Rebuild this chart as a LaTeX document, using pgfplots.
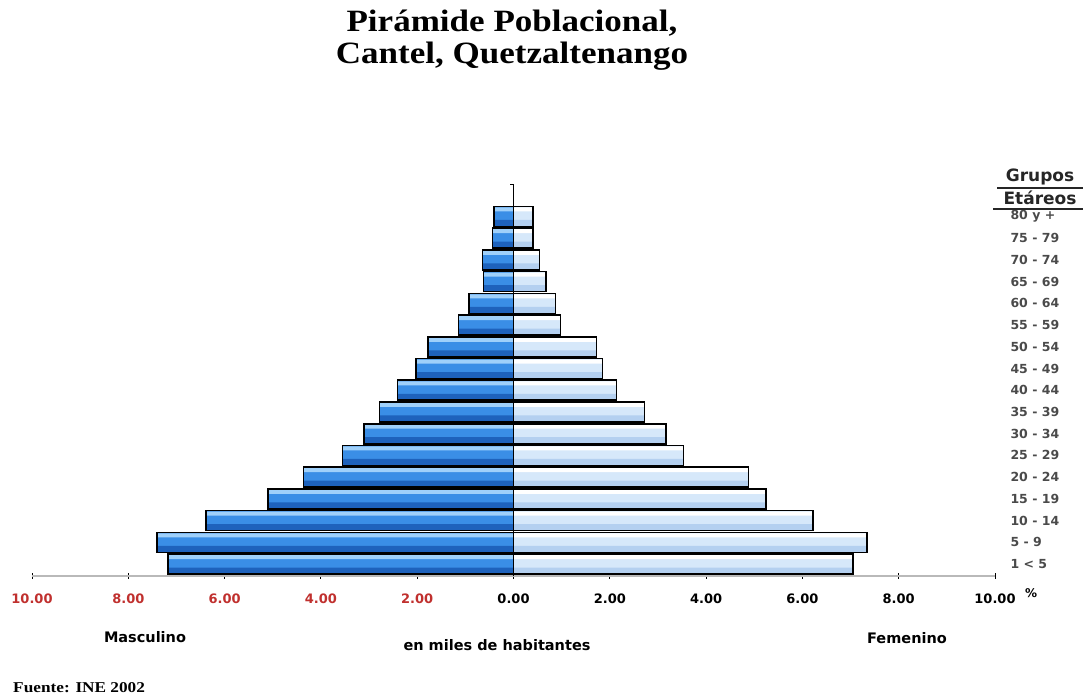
\documentclass[border=0pt]{standalone}
\usepackage{fontspec}
\setmainfont{Liberation Serif}
\newfontfamily\dv{DejaVu Sans}
\usepackage{pgfplots}
\usepackage{pgfplotstable}
\pgfplotsset{compat=1.18}

\definecolor{mhi}{HTML}{9FD0FA}
\definecolor{mmid}{HTML}{3A8EE6}
\definecolor{mlo}{HTML}{1E62BC}
\definecolor{fhi}{HTML}{FFFFFF}
\definecolor{fmid}{HTML}{D6E8FA}
\definecolor{flo}{HTML}{B4D0F0}
\definecolor{tred}{HTML}{C0302E}
\definecolor{lblgray}{HTML}{4A4A4A}

% edad: 0 = "1 < 5" ... 16 = "80 y +"
\pgfplotstableread{
edad masc fem
0  -7.18 7.05
1  -7.41 7.34
2  -6.39 6.22
3  -5.10 5.25
4  -4.36 4.88
5  -3.55 3.53
6  -3.11 3.17
7  -2.78 2.72
8  -2.41 2.14
9  -2.03 1.85
10 -1.78 1.72
11 -1.14 0.98
12 -0.93 0.87
13 -0.62 0.68
14 -0.64 0.54
15 -0.44 0.41
16 -0.41 0.41
}\piramide

\begin{document}
\begin{tikzpicture}
\useasboundingbox (0,0) rectangle (1087pt,698pt);

\node[font=\fontsize{31}{33}\selectfont\bfseries, xscale=1.13] at (512pt,675pt) {Pirámide Poblacional,};
\node[font=\fontsize{31}{33}\selectfont\bfseries, xscale=1.13] at (512pt,642pt) {Cantel, Quetzaltenango};

\begin{axis}[
    at={(32pt,122pt)}, anchor=south west,
    scale only axis,
    width=963pt, height=391pt,
    xmin=-10, xmax=10,
    ymin=-0.55, ymax=17.45,
    axis x line*=bottom,
    axis y line*=right,
    y axis line style={draw=none},
    x axis line style={draw=gray!55, line width=2.5pt},
    xtick={-10,-8,...,10},
    xticklabels={\textcolor{tred}{10.00},\textcolor{tred}{8.00},\textcolor{tred}{6.00},\textcolor{tred}{4.00},\textcolor{tred}{2.00},0.00,2.00,4.00,6.00,8.00,10.00},
    xtick style={black, line width=1pt},
    major tick length=6pt,
    tick align=center,
    xticklabel style={font=\dv\bfseries\fontsize{13}{14}\selectfont, yshift=-11pt},
    ytick={0,...,16},
    yticklabels={1 < 5,5 - 9,10 - 14,15 - 19,20 - 24,25 - 29,30 - 34,35 - 39,40 - 44,45 - 49,50 - 54,55 - 59,60 - 64,65 - 69,70 - 74,75 - 79,80 y +},
    ytick style={draw=none},
    yticklabel style={font=\dv\bfseries\fontsize{12.5}{13}\selectfont, text=lblgray, anchor=west, xshift=6pt},
    /pgf/number format/assume math mode=true,
    xbar, bar shift=0pt,
    clip=false,
]
% Masculino: relleno, brillo arriba, sombra abajo, contorno
\addplot[draw=none, fill=mmid, bar width=20pt] table[x=masc, y=edad] {\piramide};
\addplot[draw=none, fill=mhi, bar width=4pt, bar shift=7pt] table[x=masc, y=edad] {\piramide};
\addplot[draw=none, fill=mlo, bar width=6pt, bar shift=-6.5pt] table[x=masc, y=edad] {\piramide};
\addplot[draw=black, fill=none, line width=1.6pt, bar width=20pt] table[x=masc, y=edad] {\piramide};
% Femenino
\addplot[draw=none, fill=fmid, bar width=20pt] table[x=fem, y=edad] {\piramide};
\addplot[draw=none, fill=fhi, bar width=4pt, bar shift=7pt] table[x=fem, y=edad] {\piramide};
\addplot[draw=none, fill=flo, bar width=6pt, bar shift=-6.5pt] table[x=fem, y=edad] {\piramide};
\addplot[draw=black, fill=none, line width=1.6pt, bar width=20pt] table[x=fem, y=edad] {\piramide};

\draw[black, line width=1pt] (axis cs:0,-0.55) -- (axis cs:0,17.45) -- (axis cs:-0.07,17.45);
\end{axis}

\node[font=\dv\bfseries\fontsize{17}{18}\selectfont, text=black!85] at (1040pt,521pt) {Grupos};
\node[font=\dv\bfseries\fontsize{17}{18}\selectfont, text=black!85] at (1040pt,500pt) {Etáreos};
\draw[black!85, line width=1.4pt] (997pt,510pt) -- (1083pt,510pt);
\draw[black!85, line width=1.4pt] (993pt,489pt) -- (1083pt,489pt);

\node[font=\dv\bfseries\fontsize{12}{13}\selectfont] at (1031pt,105pt) {\%};
\node[font=\dv\bfseries\fontsize{14.5}{16}\selectfont] at (145pt,61pt) {Masculino};
\node[font=\dv\bfseries\fontsize{14.5}{16}\selectfont] at (497pt,53pt) {en miles de habitantes};
\node[font=\dv\bfseries\fontsize{14.5}{16}\selectfont] at (907pt,60pt) {Femenino};
\node[font=\fontsize{15}{16}\selectfont\bfseries, anchor=west, inner sep=0pt, xscale=1.15] at (13pt,10pt) {Fuente: INE 2002};
\end{tikzpicture}
\end{document}
